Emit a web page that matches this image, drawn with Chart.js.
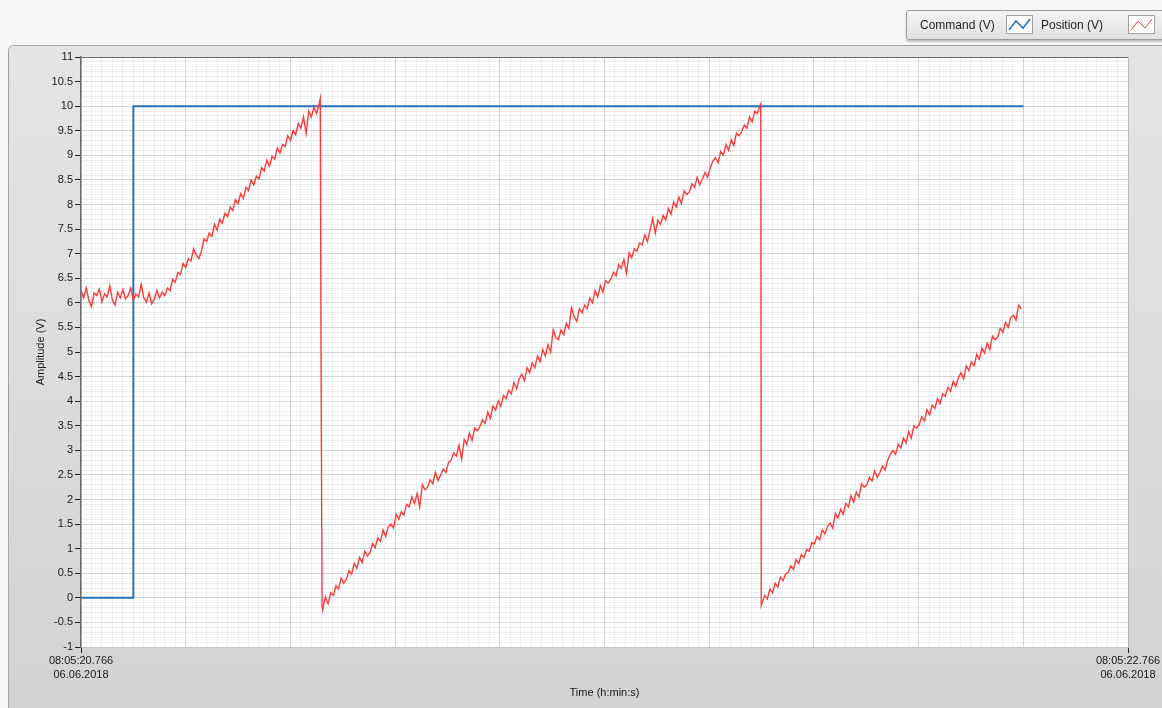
<!DOCTYPE html>
<html>
<head>
<meta charset="utf-8">
<title>Command / Position</title>
<script src="https://cdn.jsdelivr.net/npm/chart.js@4"></script>
<style>
  html, body { margin: 0; padding: 0; background: #f7f7f7; overflow: hidden; }
  body { width: 1162px; height: 708px; position: relative; font-family: 'Liberation Sans', Arial, sans-serif; }
  #chart { position: absolute; left: 0; top: 0; }
  .legend { position: absolute; left: 906px; top: 10px; width: 280px; height: 28px; border: 1px solid #9c9c9c; border-radius: 3px;
            background: linear-gradient(#f3f3f3, #e1e1e1); box-shadow: 0 2px 2px rgba(0,0,0,0.22); font-size: 12px; color: #1e1e1e; }
  .legend span { position: absolute; top: 7px; white-space: nowrap; }
  .legend svg { position: absolute; top: 4px; }
</style>
</head>
<body>
<canvas id="chart" width="1162" height="708"></canvas>
<div class="legend">
  <span style="left:13px">Command (V)</span>
  <svg style="left:99px" width="27" height="19"><rect x="0.5" y="0.5" width="26" height="18" fill="#fff" stroke="#a0a0a0"/><polyline points="3,15 10,6 17,13 24,4" fill="none" stroke="#2872b5" stroke-width="1.5"/></svg>
  <span style="left:134px">Position (V)</span>
  <svg style="left:221px" width="27" height="19"><rect x="0.5" y="0.5" width="26" height="18" fill="#fff" stroke="#a0a0a0"/><polyline points="3,15 10,6 17,13 24,4" fill="none" stroke="#ff3b3b" stroke-width="1"/></svg>
</div>
<script>
// CONFIG / DATA (time in seconds after 08:05:20.766)
const timeMin = 0;
const timeMax = 2;
const timeLabels = ['08:05:20.766', '08:05:22.766'];
const dateLabel = '06.06.2018';
const yMin = -1;
const yMax = 11;

// Command (V): step from 0 to 10 V
const commandT = [0, 0.1, 0.1, 1.8];
const commandV = [0, 0, 10, 10];

// Position (V), first ramp (sampled every 5 ms from t=0)
const pos1Start = 0;
const pos1Step = 0.005;
const pos1V = [
  6.25, 6.10, 6.30, 6.05, 5.92, 6.20, 6.15, 6.28, 6.02, 6.18,
  6.12, 6.35, 6.05, 5.95, 6.22, 6.10, 6.27, 6.08, 6.15, 6.30,
  6.05, 6.18, 6.12, 6.38, 6.10, 6.02, 6.20, 5.98, 6.08, 6.25,
  6.10, 6.22, 6.15, 6.30, 6.25, 6.48, 6.42, 6.62, 6.58, 6.80,
  6.72, 6.90, 6.85, 7.10, 6.98, 6.90, 7.05, 7.30, 7.25, 7.42,
  7.35, 7.60, 7.48, 7.70, 7.62, 7.82, 7.75, 7.95, 7.88, 8.10,
  8.02, 8.22, 8.12, 8.35, 8.28, 8.50, 8.40, 8.58, 8.52, 8.75,
  8.68, 8.90, 8.78, 8.98, 8.92, 9.15, 9.05, 9.22, 9.18, 9.40,
  9.30, 9.50, 9.42, 9.65, 9.55, 9.78, 9.45, 9.90, 9.78, 9.98,
  9.85, 10.05
];

// fall back after the first ramp
const drop1T = [0.457, 0.4585, 0.4605];
const drop1V = [10.15, 5.0, -0.2];

// second ramp
const pos2Start = 0.462;
const pos2Step = 0.005;
const pos2V = [
  -0.22, 0.02, -0.12, 0.10, 0.05, 0.25, 0.18, 0.40, 0.30, 0.38,
  0.55, 0.48, 0.70, 0.60, 0.82, 0.72, 0.95, 0.85, 0.92, 1.10,
  1.02, 1.22, 1.15, 1.38, 1.25, 1.45, 1.50, 1.42, 1.70, 1.60,
  1.75, 1.68, 1.90, 1.85, 2.05, 1.92, 2.12, 1.85, 2.30, 2.20,
  2.25, 2.40, 2.32, 2.55, 2.38, 2.50, 2.62, 2.55, 2.75, 2.80,
  2.95, 2.88, 3.10, 2.82, 3.22, 3.12, 3.35, 3.20, 3.45, 3.40,
  3.48, 3.62, 3.55, 3.78, 3.65, 3.90, 3.82, 4.00, 3.90, 4.12,
  4.05, 4.22, 4.15, 4.38, 4.25, 4.45, 4.55, 4.42, 4.68, 4.58,
  4.78, 4.68, 4.92, 4.80, 5.05, 4.92, 5.15, 5.00, 5.45, 5.30,
  5.25, 5.45, 5.35, 5.58, 5.48, 5.90, 5.72, 5.62, 5.88, 5.80,
  5.95, 5.88, 6.10, 6.00, 6.25, 6.12, 6.35, 6.22, 6.45, 6.40,
  6.48, 6.62, 6.55, 6.78, 6.70, 6.88, 6.60, 7.02, 6.92, 7.10,
  7.05, 7.22, 7.18, 7.38, 7.25, 7.48, 7.72, 7.42, 7.68, 7.60,
  7.78, 7.68, 7.92, 7.80, 8.05, 7.95, 8.15, 8.02, 8.28, 8.20,
  8.25, 8.42, 8.35, 8.55, 8.40, 8.52, 8.65, 8.55, 8.75, 8.88,
  8.95, 8.85, 9.08, 9.00, 9.22, 9.10, 9.32, 9.20, 9.45, 9.40,
  9.48, 9.62, 9.55, 9.78, 9.68, 9.90, 9.85, 10.02
];

// fall back after the second ramp
const drop2T = [1.2985, 1.2995];
const drop2V = [10.05, -0.15];

// third ramp
const pos3Start = 1.301;
const pos3Step = 0.005;
const pos3V = [
  -0.10, 0.05, -0.02, 0.18, 0.10, 0.30, 0.22, 0.42, 0.35, 0.48,
  0.52, 0.65, 0.58, 0.78, 0.70, 0.88, 0.82, 0.98, 0.95, 1.12,
  1.10, 1.25, 1.18, 1.38, 1.30, 1.45, 1.52, 1.42, 1.72, 1.62,
  1.80, 1.70, 1.92, 1.85, 2.08, 1.95, 2.15, 2.05, 2.32, 2.25,
  2.30, 2.45, 2.38, 2.58, 2.45, 2.55, 2.68, 2.60, 2.80, 2.92,
  3.00, 2.92, 3.12, 3.05, 3.25, 3.15, 3.38, 3.25, 3.50, 3.45,
  3.52, 3.68, 3.60, 3.82, 3.72, 3.92, 3.85, 4.05, 3.95, 4.15,
  4.10, 4.28, 4.20, 4.40, 4.30, 4.48, 4.58, 4.45, 4.72, 4.62,
  4.80, 4.72, 4.95, 4.85, 5.08, 4.98, 5.18, 5.05, 5.32, 5.25,
  5.30, 5.48, 5.40, 5.60, 5.50, 5.70, 5.75, 5.65, 5.95, 5.88
];

function sampled(start, step, values) {
  return values.map((v, i) => ({ x: start + i * step, y: v }));
}
function paired(ts, vs) {
  return ts.map((t, i) => ({ x: t, y: vs[i] }));
}

const positionPoints = [
  ...sampled(pos1Start, pos1Step, pos1V),
  ...paired(drop1T, drop1V),
  ...sampled(pos2Start, pos2Step, pos2V),
  ...paired(drop2T, drop2V),
  ...sampled(pos3Start, pos3Step, pos3V)
];
const commandPoints = paired(commandT, commandV);

// translucent grid so crossing lines blend instead of overwriting
const MAJOR = 'rgba(0,0,0,0.17)', MINOR = 'rgba(0,0,0,0.06)', TICK = '#222222';
const isMajorY = v => Math.round(v * 10) % 5 === 0;
const isMajorX = v => Math.round(v * 50) % 10 === 0;
const isEndX = v => Math.abs(v - timeMin) < 1e-6 || Math.abs(v - timeMax) < 1e-6;

// Draws the window panel, the white plot area and its top border
const framePlugin = {
  id: 'frame',
  beforeDraw(chart) {
    const { ctx, chartArea: a } = chart;
    ctx.save();
    ctx.fillStyle = '#f7f7f7';
    ctx.fillRect(0, 0, chart.width, chart.height);
    const g = ctx.createLinearGradient(0, 45, 0, chart.height);
    g.addColorStop(0, '#e4e4e4');
    g.addColorStop(1, '#d3d3d3');
    ctx.beginPath();
    ctx.roundRect(8.5, 45.5, chart.width + 20, chart.height + 20, 5);
    ctx.fillStyle = g;
    ctx.fill();
    ctx.strokeStyle = '#a2a2a2';
    ctx.stroke();
    ctx.fillStyle = '#ffffff';
    ctx.fillRect(a.left, a.top, a.right - a.left, a.bottom - a.top);
    ctx.restore();
  },
  afterDraw(chart) {
    const { ctx, chartArea: a } = chart;
    ctx.save();
    ctx.strokeStyle = '#6d6d6d';
    ctx.lineWidth = 1;
    ctx.beginPath();
    ctx.moveTo(a.left, a.top + 0.5);
    ctx.lineTo(a.right, a.top + 0.5);
    ctx.stroke();
    ctx.restore();
  }
};

new Chart(document.getElementById('chart'), {
  type: 'line',
  data: {
    datasets: [
      {
        label: 'Position (V)',
        data: positionPoints,
        borderColor: '#ff3a3a',
        borderWidth: 1.4,
        pointRadius: 0,
        tension: 0,
        order: 0
      },
      {
        label: 'Command (V)',
        data: commandPoints,
        borderColor: '#2872b5',
        borderWidth: 2,
        pointRadius: 0,
        tension: 0,
        order: 1
      }
    ]
  },
  options: {
    responsive: false,
    animation: false,
    events: [],
    layout: { padding: { left: 0, top: 57, right: 34, bottom: 0 } },
    plugins: { legend: { display: false }, tooltip: { enabled: false } },
    scales: {
      x: {
        type: 'linear',
        min: timeMin,
        max: timeMax,
        afterFit(scale) {
          scale.height = 61;
          scale.paddingLeft = 0;
          scale.paddingRight = 0;
        },
        border: { display: true, color: '#c8c8c8' },
        grid: {
          color: c => isMajorX(c.tick.value) ? MAJOR : MINOR,
          tickColor: c => isEndX(c.tick.value) ? TICK : 'rgba(0,0,0,0)',
          tickLength: 6,
          lineWidth: 1
        },
        ticks: {
          stepSize: 0.02,
          autoSkip: false,
          maxRotation: 0,
          padding: 1,
          color: '#1a1a1a',
          font: { family: 'Liberation Sans', size: 11, lineHeight: 1.3 },
          callback: v => {
            if (Math.abs(v - timeMin) < 1e-6) return [timeLabels[0], dateLabel];
            if (Math.abs(v - timeMax) < 1e-6) return [timeLabels[1], dateLabel];
            return '';
          }
        },
        title: {
          display: true,
          text: 'Time (h:min:s)',
          color: '#1a1a1a',
          font: { family: 'Liberation Sans', size: 11 },
          padding: { top: 0, bottom: 8.5 }
        }
      },
      y: {
        min: yMin,
        max: yMax,
        afterFit(scale) { scale.width = 81; },
        border: { display: true, color: '#6d6d6d', width: 1.5 },
        grid: {
          color: c => isMajorY(c.tick.value) ? MAJOR : MINOR,
          tickColor: c => isMajorY(c.tick.value) ? TICK : 'rgba(0,0,0,0)',
          tickLength: 6,
          lineWidth: 1
        },
        ticks: {
          stepSize: 0.1,
          autoSkip: false,
          padding: 2,
          color: '#1a1a1a',
          font: { family: 'Liberation Sans', size: 11 },
          callback: v => {
            const k = Math.round(v * 10);
            return k % 5 === 0 ? String(k / 10) : '';
          }
        },
        title: {
          display: true,
          text: 'Amplitude (V)',
          color: '#1a1a1a',
          font: { family: 'Liberation Sans', size: 11 },
          padding: { top: 34.4, bottom: 0 }
        }
      }
    }
  },
  plugins: [framePlugin]
});
</script>
</body>
</html>
